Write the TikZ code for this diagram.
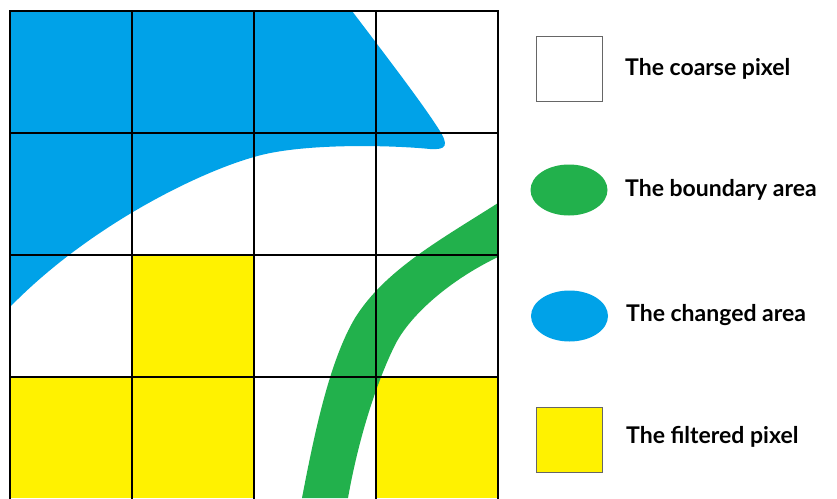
\documentclass[tikz,border=0pt]{standalone}
\usepackage{fontspec}
\setmainfont{Lato}
\usetikzlibrary{shapes.geometric}
\definecolor{chblue}{RGB}{0,162,232}
\definecolor{bdgreen}{RGB}{34,177,76}
\definecolor{flyellow}{RGB}{255,242,0}
\begin{document}
\begin{tikzpicture}[x=1pt,y=-1pt,
  legtext/.style={anchor=base west, inner sep=0pt, font=\fontsize{23}{26}\selectfont\bfseries},
  legsq/.style={draw=black!60, line width=1pt, minimum width=66pt, minimum height=65pt, inner sep=0pt},
  legell/.style={ellipse, minimum width=77pt, minimum height=51pt, inner sep=0pt},
  gridline/.style={line width=1.6pt, black, line cap=rect}]
\useasboundingbox (0,0) rectangle (837,498);
\fill[white] (0,0) rectangle (837,498);
% filtered pixels
\fill[flyellow] (132,255) rectangle (254,377);
\fill[flyellow] (10,377) rectangle (254,498);
\fill[flyellow] (376,377) rectangle (498,498);
% changed area
\fill[chblue] (10,11) -- (352,11)
  .. controls (380,48) and (420,100) .. (438,128)
  .. controls (450,146) and (446,150) .. (430,149)
  .. controls (390,145) and (300,143) .. (254,157)
  .. controls (200,172) and (90,225) .. (10,307) -- cycle;
% boundary area
\fill[bdgreen] (498,203)
  .. controls (440,240) and (385,270) .. (355,318)
  .. controls (330,360) and (315,430) .. (302,498)
  -- (348,498)
  .. controls (360,430) and (380,375) .. (395,345)
  .. controls (410,315) and (450,280) .. (498,257) -- cycle;
% grid
\foreach \gx in {10,132,254,376,498} \draw[gridline] (\gx,11) -- (\gx,498);
\foreach \gy in {11,133,255,377} \draw[gridline] (10,\gy) -- (498,\gy);
% legend
\node[legsq, fill=white] (sqcoarse) at (569,68.5) {};
\node[legell, fill=bdgreen] (elbound) at (569,190) {};
\node[legell, fill=chblue] (elchange) at (569.5,316) {};
\node[legsq, fill=flyellow] (sqfilter) at (569,439.5) {};
\node[legtext] (tcoarse) at (625,75) {The coarse pixel};
\node[legtext] (tbound) at (625,196) {The boundary area};
\node[legtext] (tchange) at (626,321) {The changed area};
\node[legtext] (tfilter) at (626,443) {The filtered pixel};
\end{tikzpicture}
\end{document}
